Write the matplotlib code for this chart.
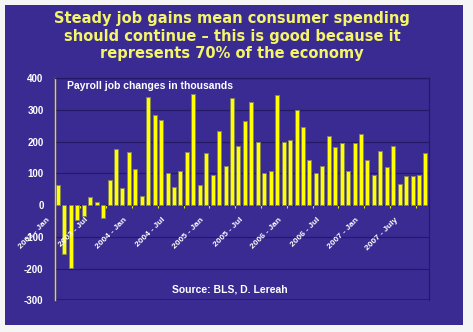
import matplotlib.pyplot as plt
import numpy as np
from matplotlib.patches import Rectangle
from matplotlib.transforms import offset_copy

# Monthly payroll job changes (thousands), Jan 2003 .. Oct 2007
job_changes = [64, -155, -197, -48, -35, 25, 10, -42, 80, 176, 55, 167,
               114, 29, 342, 285, 268, 102, 58, 107, 168, 350, 64, 165,
               95, 235, 125, 338, 187, 264, 325, 200, 102, 107, 348, 200,
               204, 299, 248, 142, 102, 123, 219, 184, 195, 107, 195, 224,
               142, 95, 172, 120, 186, 68, 91, 91, 96, 165]
label_positions = [0, 6, 12, 18, 24, 30, 36, 42, 48, 54]
label_texts = ["2003 - Jan", "2003 - Jul", "2004 - Jan", "2004 - Jul",
               "2005 - Jan", "2005 - Jul", "2006 - Jan", "2006 - Jul",
               "2007 - Jan", "2007 - July"]
y_ticks = [-300, -200, -100, 0, 100, 200, 300, 400]

panel = "#3a2b93"
grid_col = "#231a66"

fig = plt.figure(figsize=(4.73, 3.32), dpi=100, facecolor="#f5f5f5")
fig.patches.append(Rectangle((5 / 473, 1 - 325 / 332), 458 / 473, 320 / 332,
                             transform=fig.transFigure, facecolor=panel,
                             edgecolor="none", zorder=-5))

ax = fig.add_axes([54.7 / 473, 1 - 300.3 / 332, 374 / 473, 222 / 332])
ax.set_facecolor(panel)
ax.set_zorder(2)

xs = np.arange(len(job_changes))
ax.bar(xs, job_changes, width=0.62, color="#ffff00", edgecolor="#85855a",
       linewidth=0.7, zorder=3)

ax.set_xlim(-0.5, len(job_changes) - 0.5)
ax.set_ylim(-300, 400)
ax.set_yticks(y_ticks)
ax.set_yticklabels([str(v) for v in y_ticks], color="white",
                   fontweight="bold", fontsize=7, family="Liberation Sans")
ax.tick_params(axis="y", length=0, pad=8)
ax.yaxis.grid(True, color=grid_col, linewidth=0.9)
ax.set_axisbelow(True)

# x axis sits on the zero line, small tick marks every 4 months
ax.spines["bottom"].set_position(("data", 0))
ax.spines["bottom"].set_visible(False)
ax.set_xticks(np.arange(3.5, len(job_changes) - 1, 4))
ax.set_xticklabels([])
ax.tick_params(axis="x", length=2.5, color="#e8e800", width=0.8, direction="out")

for sp in ["top", "right"]:
    ax.spines[sp].set_color(grid_col)
    ax.spines[sp].set_linewidth(0.9)
ax.spines["left"].set_color("#e0e000")
ax.spines["left"].set_linewidth(1.0)
ax.axhline(-300, color=grid_col, linewidth=1.2, zorder=2)

lab_tr = offset_copy(ax.transData, fig=fig, x=-7, y=-11, units="dots")
for pos, txt in zip(label_positions, label_texts):
    ax.text(pos, 0, txt, transform=lab_tr, rotation=45, ha="right", va="top",
            color="white", fontsize=6, fontweight="bold",
            family="Liberation Sans")

fig.text(66.7 / 473, 1 - 86 / 332, "Payroll job changes in thousands",
         color="white", fontsize=7.5, fontweight="bold",
         family="Liberation Sans", ha="left", va="center", zorder=5)
fig.text(230 / 473, 1 - 289.5 / 332, "Source: BLS, D. Lereah",
         color="white", fontsize=7.5, fontweight="bold",
         family="Liberation Sans", ha="center", va="center", zorder=5)
fig.text(232 / 473, 1 - 36 / 332,
         "Steady job gains mean consumer spending\n"
         "should continue \u2013 this is good because it\n"
         "represents 70% of the economy",
         color="#f5f56a", fontsize=10.5, fontweight="bold", ha="center",
         va="center", linespacing=1.2)

fig.savefig("out.png", dpi=100, facecolor=fig.get_facecolor())
